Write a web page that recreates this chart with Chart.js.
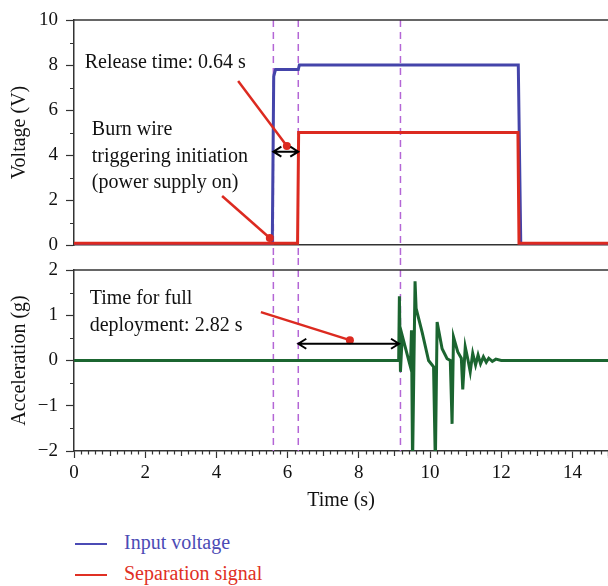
<!DOCTYPE html>
<html>
<head>
<meta charset="utf-8">
<script src="https://cdn.jsdelivr.net/npm/chart.js@4/dist/chart.umd.min.js"></script>
<style>
  body { margin: 0; background: #fff; }
  #wrap { position: relative; width: 608px; height: 586px; overflow: hidden; }
  canvas { position: absolute; left: 0; }
  #voltChart { top: 0; }
  #accChart { top: 258px; }
  .legend { position: absolute; left: 75px; font-family: "Liberation Serif", "Times New Roman", serif; font-size: 20px; line-height: 24px; }
  .legend .swatch { display: inline-block; width: 32px; height: 2px; vertical-align: middle; margin-right: 17px; }
</style>
</head>
<body>
<div id="wrap">
  <canvas id="voltChart" width="608" height="258"></canvas>
  <canvas id="accChart" width="608" height="258"></canvas>
  <div class="legend" style="top:530px; color:#4b4bb5"><span class="swatch" style="background:#4b4bb5"></span>Input voltage</div>
  <div class="legend" style="top:561px; color:#e03024"><span class="swatch" style="background:#e03024"></span>Separation signal</div>
</div>
<script>
// Data -----------------------------

// Input voltage (V)
const voltTime     = [0,    5.57, 5.61, 5.66, 6.30, 6.33, 12.48, 12.55, 15];
const inputVoltage = [0.02, 0.02, 7.5,  7.8,  7.8,  8.0,  8.0,   0.02,  0.02];

// Separation signal (V)
const sepTime   = [0,    6.28, 6.31, 12.47, 12.50, 15];
const sepSignal = [0.08, 0.08, 5.0,  5.0,   0.08,  0.08];

// Acceleration (g)
const accTime = [0, 9.12, 9.14, 9.17, 9.22, 9.45, 9.48, 9.51, 9.58, 9.61, 9.78, 9.96, 10.10, 10.15, 10.20,
                 10.34, 10.48, 10.57, 10.62, 10.66, 10.78, 10.88, 10.92, 10.99, 11.07, 11.13, 11.20,
                 11.28, 11.35, 11.42, 11.50, 11.58, 11.65, 11.75, 11.85, 12.0, 15];
const acceleration = [0, 0, 1.42, -0.25, 0.55, -0.14, 0.67, -2.3, 1.75, 1.15, 0.62, 0.0, -0.14, -2.3, 0.85,
                      0.26, 0.04, 0.0, -1.4, 0.52, 0.19, 0.05, -0.64, 0.30, 0.0, -0.25, 0.16,
                      -0.1, 0.12, -0.07, 0.08, -0.04, 0.05, -0.02, 0.03, 0, 0];

// Dashed event markers (s)
const markerTimes = [5.6, 6.3, 9.17];

const timeMin = 0, timeMax = 15;

const FONT = '"Liberation Serif", "Times New Roman", serif';
const AXIS = '#333';

// Helpers --------

function toPoints(xs, ys) {
    return xs.map((x, i) => ({x: x, y: ys[i]}));
}

function noPad(s) {
    s.paddingTop = 0; s.paddingBottom = 0;
    s.paddingLeft = 0; s.paddingRight = 0;
}

function drawArrow(ctx, x1, x2, y) {
    ctx.save();
    ctx.strokeStyle = '#000';
    ctx.lineWidth = 2;
    ctx.beginPath();
    ctx.moveTo(x1, y); ctx.lineTo(x2, y);
    ctx.moveTo(x1 + 8, y - 5); ctx.lineTo(x1, y); ctx.lineTo(x1 + 8, y + 5);
    ctx.moveTo(x2 - 8, y - 5); ctx.lineTo(x2, y); ctx.lineTo(x2 - 8, y + 5);
    ctx.stroke();
    ctx.restore();
}

function drawLeader(ctx, x1, y1, x2, y2) {
    ctx.save();
    ctx.strokeStyle = '#dc2a20';
    ctx.fillStyle = '#dc2a20';
    ctx.lineWidth = 2.5;
    ctx.beginPath(); ctx.moveTo(x1, y1); ctx.lineTo(x2, y2); ctx.stroke();
    ctx.beginPath(); ctx.arc(x2, y2, 4, 0, Math.PI * 2); ctx.fill();
    ctx.restore();
}

// markers, frame top line, minor ticks, notes
const panelDecor = {
    id: 'panelDecor',
    beforeDatasetsDraw(chart, args, opts) {
        const {ctx, chartArea} = chart;
        const xs = chart.scales.x, ys = chart.scales.y;
        ctx.save();
        ctx.strokeStyle = '#b466d6';
        ctx.lineWidth = 1.5;
        ctx.setLineDash([7, 5]);
        markerTimes.forEach(t => {
            const px = xs.getPixelForValue(t);
            ctx.beginPath();
            ctx.moveTo(px, opts.extendUp ? 0 : chartArea.top);
            ctx.lineTo(px, opts.extendDown ? chart.height : chartArea.bottom);
            ctx.stroke();
        });
        ctx.restore();

        // top frame line
        ctx.save();
        ctx.strokeStyle = AXIS;
        ctx.lineWidth = 1.5;
        ctx.beginPath();
        ctx.moveTo(chartArea.left, chartArea.top);
        ctx.lineTo(chartArea.right, chartArea.top);
        ctx.stroke();

        // short ticks on the value axis where there is no label
        ctx.lineWidth = 1.2;
        ctx.beginPath();
        ys.ticks.forEach(tk => {
            if (tk.label !== '') return;
            const py = Math.round(ys.getPixelForValue(tk.value)) + 0.5;
            ctx.moveTo(chartArea.left - 4, py);
            ctx.lineTo(chartArea.left, py);
        });
        ctx.stroke();

        // minor ticks on the time axis
        if (opts.minorTicks) {
            ctx.beginPath();
            for (let i = 0; i <= timeMax * 5; i++) {
                if (i % 10 === 0) continue;
                const px = Math.round(xs.getPixelForValue(i / 5)) + 0.5;
                const len = (i % 5 === 0) ? 5 : 3.5;
                ctx.moveTo(px, chartArea.bottom);
                ctx.lineTo(px, chartArea.bottom + len);
            }
            ctx.stroke();
        }
        ctx.restore();
    },
    afterDatasetsDraw(chart, args, opts) {
        const {ctx} = chart;
        const xs = chart.scales.x, ys = chart.scales.y;
        (opts.leaders || []).forEach(l => {
            drawLeader(ctx, xs.getPixelForValue(l[0]), ys.getPixelForValue(l[1]),
                            xs.getPixelForValue(l[2]), ys.getPixelForValue(l[3]));
        });
        (opts.arrows || []).forEach(a => {
            drawArrow(ctx, xs.getPixelForValue(a[0]), xs.getPixelForValue(a[1]), ys.getPixelForValue(a[2]));
        });
        ctx.save();
        ctx.fillStyle = '#111';
        ctx.font = '20px ' + FONT;
        ctx.textBaseline = 'alphabetic';
        (opts.notes || []).forEach(n => {
            const x = xs.getPixelForValue(n.t);
            const y = ys.getPixelForValue(n.v);
            n.lines.forEach((line, i) => ctx.fillText(line, x, y + i * 26.6));
        });
        ctx.restore();
    }
};

function yAxis(min, max, step, title, fmt) {
    return {
        type: 'linear',
        min: min,
        max: max,
        afterFit: s => { s.width = 74; noPad(s); },
        border: {display: true, color: AXIS, width: 1.5},
        grid: {
            display: true, drawOnChartArea: false, drawTicks: true, tickLength: 8, tickWidth: 1.2,
            tickColor: c => (c.tick && fmt(c.tick.value) !== '') ? AXIS : 'rgba(0,0,0,0)'
        },
        ticks: {
            stepSize: step,
            autoSkip: false,
            padding: 8,
            color: '#111',
            font: {family: FONT, size: 19},
            callback: fmt
        },
        title: {display: true, text: title, color: '#111', font: {family: FONT, size: 20}, padding: {top: 8, bottom: 0}}
    };
}

Chart.defaults.animation = false;

// Top panel: voltages
new Chart(document.getElementById('voltChart'), {
    type: 'line',
    data: {
        datasets: [{
            label: 'Input voltage',
            data: toPoints(voltTime, inputVoltage),
            borderColor: '#4444aa',
            borderWidth: 3,
            pointRadius: 0,
            order: 2
        }, {
            label: 'Separation signal',
            data: toPoints(sepTime, sepSignal),
            borderColor: '#dc2a20',
            borderWidth: 3,
            pointRadius: 0,
            order: 1
        }]
    },
    options: {
        responsive: false,
        layout: {padding: {top: 20, left: 0, right: 0, bottom: 0}},
        scales: {
            x: {
                type: 'linear',
                min: timeMin,
                max: timeMax,
                afterFit: s => { s.height = 13; noPad(s); },
                border: {display: true, color: AXIS, width: 1.5},
                grid: {display: false},
                ticks: {display: false}
            },
            y: yAxis(0, 10, 1, 'Voltage (V)', v => v % 2 === 0 ? String(v) : '')
        },
        plugins: {
            legend: {display: false},
            tooltip: {enabled: false},
            panelDecor: {
                extendDown: true,
                notes: [
                    {t: 0.3, v: 7.87, lines: ['Release time: 0.64 s']},
                    {t: 0.5, v: 4.89, lines: ['Burn wire', 'triggering initiation', '(power supply on)']}
                ],
                leaders: [[4.61, 7.29, 5.98, 4.4], [4.16, 2.18, 5.5, 0.31]],
                arrows: [[5.6, 6.3, 4.15]]
            }
        }
    },
    plugins: [panelDecor]
});

// Bottom panel: acceleration
new Chart(document.getElementById('accChart'), {
    type: 'line',
    data: {
        datasets: [{
            label: 'Acceleration',
            data: toPoints(accTime, acceleration),
            borderColor: '#1b6530',
            borderWidth: 3,
            pointRadius: 0
        }]
    },
    options: {
        responsive: false,
        layout: {padding: {top: 12, left: 0, right: 0, bottom: 2}},
        scales: {
            x: {
                type: 'linear',
                min: timeMin,
                max: timeMax,
                afterFit: s => { s.height = 63; noPad(s); },
                border: {display: true, color: AXIS, width: 1.5},
                grid: {display: true, drawOnChartArea: false, drawTicks: true, tickLength: 7, tickColor: AXIS, tickWidth: 1.2},
                ticks: {
                    stepSize: 2,
                    autoSkip: false,
                    maxRotation: 0,
                    padding: 4,
                    color: '#111',
                    font: {family: FONT, size: 19},
                    callback: v => v % 2 === 0 ? v : ''
                },
                title: {display: true, text: 'Time (s)', color: '#111', font: {family: FONT, size: 20}, padding: {top: 0, bottom: 1}}
            },
            y: yAxis(-2, 2, 0.5, 'Acceleration (g)',
                     v => Number.isInteger(v) ? (v < 0 ? '\u2212' + Math.abs(v) : String(v)) : '')
        },
        plugins: {
            legend: {display: false},
            tooltip: {enabled: false},
            panelDecor: {
                extendUp: true,
                minorTicks: true,
                notes: [
                    {t: 0.44, v: 1.24, lines: ['Time for full', 'deployment: 2.82 s']}
                ],
                leaders: [[5.25, 1.07, 7.75, 0.45]],
                arrows: [[6.3, 9.13, 0.37]]
            }
        }
    },
    plugins: [panelDecor]
});
</script>
</body>
</html>
